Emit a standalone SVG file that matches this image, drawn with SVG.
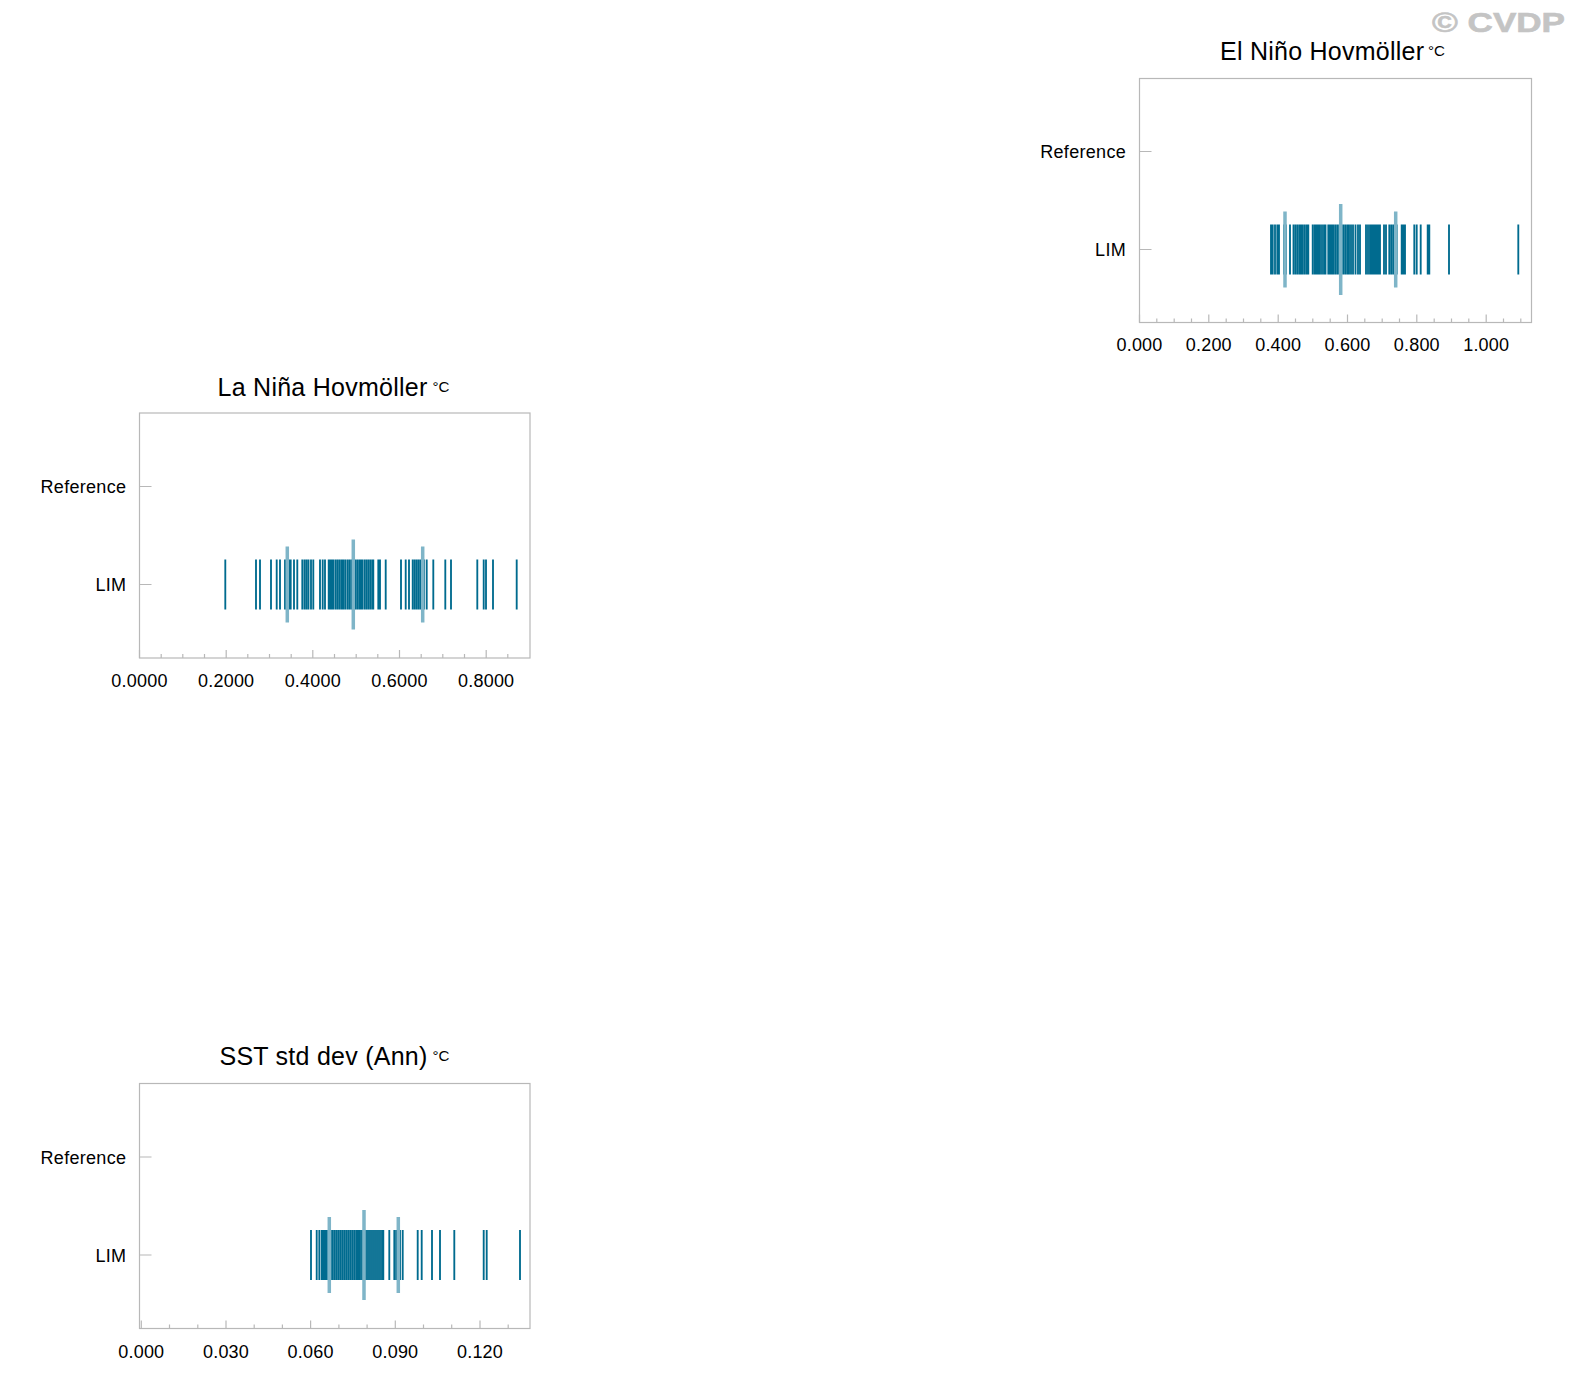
<svg xmlns="http://www.w3.org/2000/svg" width="1572" height="1398" viewBox="0 0 1572 1398">
<style>
text{font-family:"Liberation Sans",Arial,Helvetica,sans-serif;fill:#000}
.title{font-size:25px;letter-spacing:0.25px}
.unit{font-size:15px}
.ylab{font-size:18px;text-anchor:end;letter-spacing:0.3px}
.xlab{font-size:18px;text-anchor:middle;letter-spacing:0.2px}
.frame{fill:none;stroke:#b8b8b8;stroke-width:1.2}
.tick{stroke:#b8b8b8;stroke-width:1.2;fill:none}
.bar{stroke:#006b8f;stroke-width:1.85;fill:none}
.hl{stroke:#7fb5c8;stroke-width:3.5;fill:none}
.wm{font-size:27px;font-weight:bold;fill:#c4c4c4;stroke:#c4c4c4;stroke-width:0.6}
</style>
<rect width="1572" height="1398" fill="#fff"/>
<text class="wm" x="1432" y="31.5" textLength="133" lengthAdjust="spacingAndGlyphs">© CVDP</text>

<g id="elnino">
<text class="title" x="1220" y="60">El Niño Hovmöller</text>
<text class="unit" x="1428" y="56" textLength="17" lengthAdjust="spacingAndGlyphs">°C</text>
<rect class="frame" x="1139.5" y="78.5" width="392" height="244"/>
<path class="tick" d="M1139.5 151.5h12M1139.5 249.5h12M1139.5 322.5v-8M1208.8 322.5v-8M1278.2 322.5v-8M1347.5 322.5v-8M1416.8 322.5v-8M1486.2 322.5v-8M1156.8 322.5v-4M1174.2 322.5v-4M1191.5 322.5v-4M1226.2 322.5v-4M1243.5 322.5v-4M1260.8 322.5v-4M1295.5 322.5v-4M1312.8 322.5v-4M1330.2 322.5v-4M1364.8 322.5v-4M1382.2 322.5v-4M1399.5 322.5v-4M1434.2 322.5v-4M1451.5 322.5v-4M1468.8 322.5v-4M1503.5 322.5v-4M1520.8 322.5v-4"/>
<text class="ylab" x="1126" y="158">Reference</text>
<text class="ylab" x="1126" y="256">LIM</text>
<text class="xlab" x="1139.5" y="351">0.000</text>
<text class="xlab" x="1208.8" y="351">0.200</text>
<text class="xlab" x="1278.2" y="351">0.400</text>
<text class="xlab" x="1347.5" y="351">0.600</text>
<text class="xlab" x="1416.8" y="351">0.800</text>
<text class="xlab" x="1486.2" y="351">1.000</text>
<path class="bar" d="M1271 224.5V274.5M1272.7 224.5V274.5M1275 224.5V274.5M1277.3 224.5V274.5M1279 224.5V274.5M1284 224.5V274.5M1286 224.5V274.5M1290 224.5V274.5M1293.5 224.5V274.5M1295.5 224.5V274.5M1297.5 224.5V274.5M1299.5 224.5V274.5M1301 224.5V274.5M1302.7 224.5V274.5M1304.7 224.5V274.5M1306.7 224.5V274.5M1308.3 224.5V274.5M1312.7 224.5V274.5M1314.7 224.5V274.5M1316.5 224.5V274.5M1318.3 224.5V274.5M1320 224.5V274.5M1322 224.5V274.5M1324 224.5V274.5M1325.5 224.5V274.5M1328.3 224.5V274.5M1330 224.5V274.5M1331.7 224.5V274.5M1333.5 224.5V274.5M1335.5 224.5V274.5M1337.5 224.5V274.5M1339.5 224.5V274.5M1341.5 224.5V274.5M1343.5 224.5V274.5M1345.5 224.5V274.5M1347.5 224.5V274.5M1349 224.5V274.5M1351 224.5V274.5M1353 224.5V274.5M1355.5 224.5V274.5M1358 224.5V274.5M1360 224.5V274.5M1366 224.5V274.5M1368 224.5V274.5M1370 224.5V274.5M1371.7 224.5V274.5M1373.3 224.5V274.5M1375 224.5V274.5M1376.7 224.5V274.5M1378.5 224.5V274.5M1380 224.5V274.5M1384 224.5V274.5M1386 224.5V274.5M1389.3 224.5V274.5M1391.3 224.5V274.5M1393.3 224.5V274.5M1396.7 224.5V274.5M1401.7 224.5V274.5M1403.5 224.5V274.5M1405 224.5V274.5M1414.3 224.5V274.5M1416.7 224.5V274.5M1420.7 224.5V274.5M1427.7 224.5V274.5M1429.3 224.5V274.5M1449 224.5V274.5M1518.3 224.5V274.5"/>
<path class="hl" d="M1285 211.5V287.5M1340.7 204V295M1395.7 211.5V287.5"/>
</g>

<g id="lanina">
<text class="title" x="217.6" y="396">La Niña Hovmöller</text>
<text class="unit" x="432.5" y="392" textLength="17" lengthAdjust="spacingAndGlyphs">°C</text>
<rect class="frame" x="139.5" y="413" width="390.5" height="245"/>
<path class="tick" d="M139.5 486.5h12M139.5 584.5h12M139.5 658v-8M226.2 658v-8M312.8 658v-8M399.5 658v-8M486.2 658v-8M161.2 658v-4M182.8 658v-4M204.5 658v-4M247.8 658v-4M269.5 658v-4M291.2 658v-4M334.5 658v-4M356.2 658v-4M377.8 658v-4M421.2 658v-4M442.8 658v-4M464.5 658v-4M507.8 658v-4"/>
<text class="ylab" x="126.3" y="493">Reference</text>
<text class="ylab" x="126.3" y="591">LIM</text>
<text class="xlab" x="139.5" y="687">0.0000</text>
<text class="xlab" x="226.2" y="687">0.2000</text>
<text class="xlab" x="312.8" y="687">0.4000</text>
<text class="xlab" x="399.5" y="687">0.6000</text>
<text class="xlab" x="486.2" y="687">0.8000</text>
<path class="bar" d="M225.3 559.5V609.5M256 559.5V609.5M260 559.5V609.5M271 559.5V609.5M276.7 559.5V609.5M280 559.5V609.5M285 559.5V609.5M287 559.5V609.5M289 559.5V609.5M290.7 559.5V609.5M294 559.5V609.5M297.3 559.5V609.5M302.3 559.5V609.5M304.5 559.5V609.5M306.5 559.5V609.5M308.5 559.5V609.5M311 559.5V609.5M313.3 559.5V609.5M320 559.5V609.5M322.7 559.5V609.5M325 559.5V609.5M328.7 559.5V609.5M330.5 559.5V609.5M331.7 559.5V609.5M333.3 559.5V609.5M335.5 559.5V609.5M337.5 559.5V609.5M339.5 559.5V609.5M341.5 559.5V609.5M343.3 559.5V609.5M345.3 559.5V609.5M347.5 559.5V609.5M349.5 559.5V609.5M351.5 559.5V609.5M353.5 559.5V609.5M355.5 559.5V609.5M357.5 559.5V609.5M359.5 559.5V609.5M360.7 559.5V609.5M362.3 559.5V609.5M364.5 559.5V609.5M366.5 559.5V609.5M368.5 559.5V609.5M370.5 559.5V609.5M372.5 559.5V609.5M373.3 559.5V609.5M378.3 559.5V609.5M380 559.5V609.5M385.7 559.5V609.5M401 559.5V609.5M405.7 559.5V609.5M409 559.5V609.5M412.7 559.5V609.5M414.7 559.5V609.5M416.7 559.5V609.5M418.7 559.5V609.5M420.7 559.5V609.5M422.5 559.5V609.5M424 559.5V609.5M426.7 559.5V609.5M433.3 559.5V609.5M445.3 559.5V609.5M451 559.5V609.5M477.3 559.5V609.5M483.7 559.5V609.5M486 559.5V609.5M493 559.5V609.5M516.7 559.5V609.5"/>
<path class="hl" d="M287.3 546.5V622.5M353.3 539.5V629.5M422.7 546.5V622.5"/>
</g>

<g id="sststd">
<text class="title" x="219.5" y="1064.5">SST std dev (Ann)</text>
<text class="unit" x="432.5" y="1060.5" textLength="17" lengthAdjust="spacingAndGlyphs">°C</text>
<rect class="frame" x="139.5" y="1083.5" width="390.5" height="245"/>
<path class="tick" d="M139.5 1157h12M139.5 1255h12M141.3 1328.5v-8M226 1328.5v-8M310.6 1328.5v-8M395.3 1328.5v-8M480 1328.5v-8M169.5 1328.5v-4M197.8 1328.5v-4M254.2 1328.5v-4M282.4 1328.5v-4M338.9 1328.5v-4M367.1 1328.5v-4M423.5 1328.5v-4M451.7 1328.5v-4M508.2 1328.5v-4"/>
<text class="ylab" x="126.3" y="1163.5">Reference</text>
<text class="ylab" x="126.3" y="1261.5">LIM</text>
<text class="xlab" x="141.3" y="1357.5">0.000</text>
<text class="xlab" x="226" y="1357.5">0.030</text>
<text class="xlab" x="310.6" y="1357.5">0.060</text>
<text class="xlab" x="395.3" y="1357.5">0.090</text>
<text class="xlab" x="480" y="1357.5">0.120</text>
<path class="bar" d="M311 1230V1280M316.7 1230V1280M319.3 1230V1280M321.7 1230V1280M323.3 1230V1280M325 1230V1280M326.7 1230V1280M328.7 1230V1280M330.7 1230V1280M332.7 1230V1280M334.7 1230V1280M336.7 1230V1280M338.7 1230V1280M340.7 1230V1280M342.7 1230V1280M344.7 1230V1280M346.7 1230V1280M348.7 1230V1280M350.7 1230V1280M352.7 1230V1280M354.7 1230V1280M356.7 1230V1280M358.3 1230V1280M360 1230V1280M362 1230V1280M364 1230V1280M366 1230V1280M368 1230V1280M370 1230V1280M372 1230V1280M374 1230V1280M376 1230V1280M378 1230V1280M380 1230V1280M382 1230V1280M383.3 1230V1280M389.3 1230V1280M394.3 1230V1280M396.3 1230V1280M398.3 1230V1280M400 1230V1280M402.7 1230V1280M417.7 1230V1280M421.7 1230V1280M432 1230V1280M440 1230V1280M454.3 1230V1280M483.7 1230V1280M486.7 1230V1280M520 1230V1280"/>
<path class="hl" d="M329.3 1217V1293M364 1210V1300M398.3 1217V1293"/>
</g>
</svg>
